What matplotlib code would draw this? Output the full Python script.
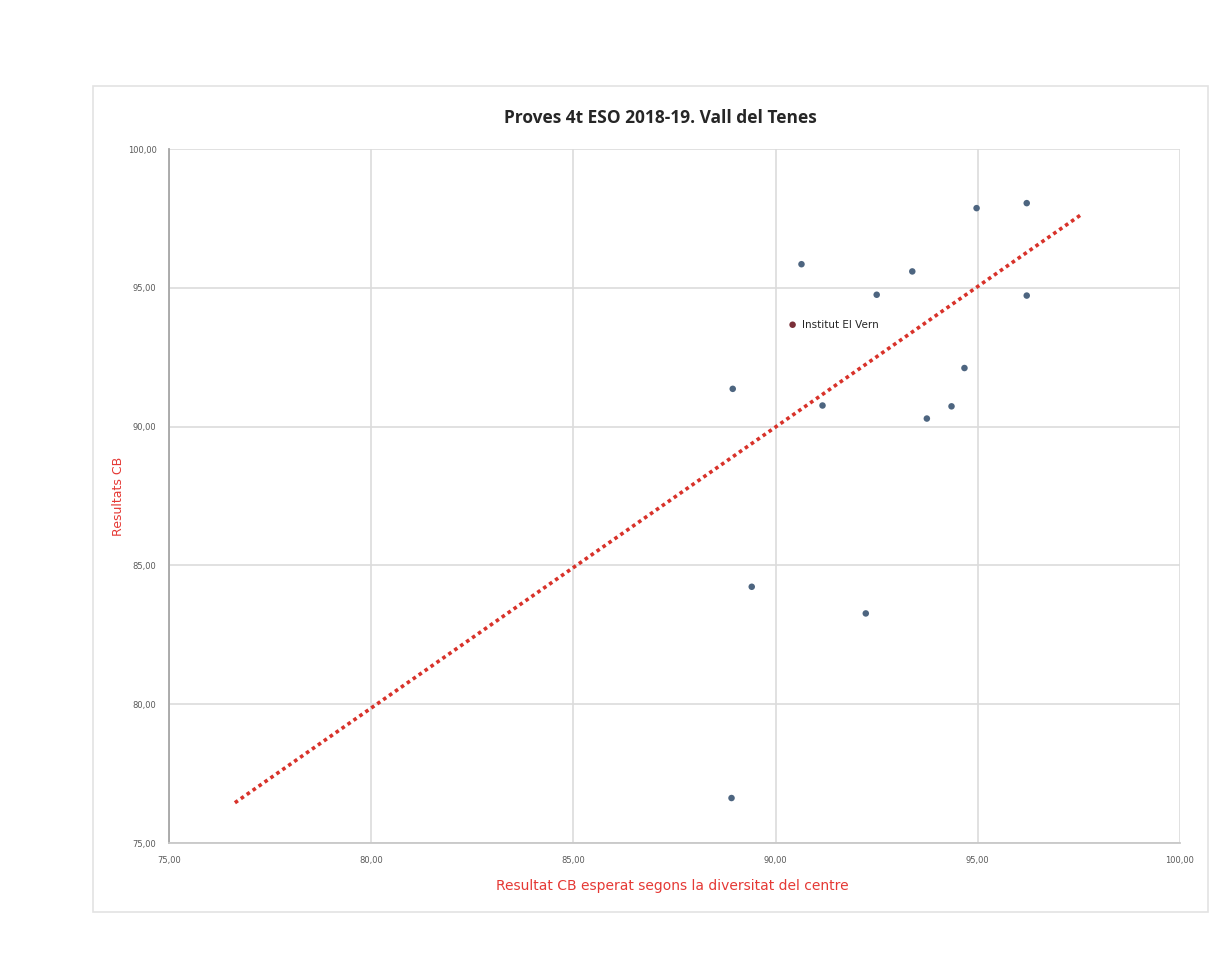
import matplotlib
matplotlib.use("Agg")
import matplotlib.pyplot as plt
from matplotlib.patches import Rectangle
from matplotlib.ticker import FuncFormatter, MultipleLocator

# Data
expected = [96.21, 94.97, 90.64, 93.38, 92.50, 96.21, 94.67, 88.94, 91.16,
            94.35, 93.74, 89.41, 92.23, 88.91]
observed = [98.05, 97.87, 95.85, 95.59, 94.75, 94.72, 92.11, 91.36, 90.76,
            90.73, 90.29, 84.23, 83.27, 76.62]
highlight_x = [90.42]
highlight_y = [93.67]
highlight_label = "Institut El Vern"
trend_x = [76.63, 97.55]
trend_y = [76.45, 97.63]

title = "Proves 4t ESO 2018-19. Vall del Tenes"
xlabel = "Resultat CB esperat segons la diversitat del centre"
ylabel = "Resultats CB"

fig = plt.figure(figsize=(12.3, 9.67), dpi=100)
fig.patch.set_facecolor("white")
fig.patches.append(Rectangle((93/1230, 1-912/967), (1208-93)/1230, (912-86)/967,
                             transform=fig.transFigure, fill=False,
                             edgecolor="#e3e3e3", linewidth=1.2))

ax = fig.add_axes([169/1230, 1-843/967, (1180-169)/1230, (843-149)/967])
ax.set_xlim(75, 100)
ax.set_ylim(75, 100)
ax.xaxis.set_major_locator(MultipleLocator(5))
ax.yaxis.set_major_locator(MultipleLocator(5))
fmt = FuncFormatter(lambda v, p: f"{v:.2f}".replace(".", ","))
ax.xaxis.set_major_formatter(fmt)
ax.yaxis.set_major_formatter(fmt)
ax.grid(True, color="#dcdcdc", linewidth=1.2)
ax.set_axisbelow(True)
for s in ["top", "right"]:
    ax.spines[s].set_visible(False)
ax.spines["left"].set_color("#a6a6a6")
ax.spines["bottom"].set_color("#c8c8c8")
ax.spines["left"].set_linewidth(1.3)
ax.spines["bottom"].set_linewidth(1.3)
ax.tick_params(length=0, labelsize=6, labelcolor="#595959", pad=9)

ax.plot(trend_x, trend_y, linestyle=(0, (1, 1)), color="#d8322a", linewidth=2.6,
        zorder=2)
ax.scatter(expected, observed, s=22, color="#4d6580", zorder=3, edgecolors="none")
ax.scatter(highlight_x, highlight_y, s=22, color="#7a2f38", zorder=3, edgecolors="none")
ax.annotate(highlight_label, (highlight_x[0], highlight_y[0]), xytext=(7, 0),
            textcoords="offset points", va="center", ha="left", fontsize=7.5,
            color="#262626")

fig.text(660/1230, 1-118/967, title, ha="center", va="center", fontsize=12.5,
         fontweight="bold", color="#262626", family="Open Sans")
fig.text(672/1230, 1-886/967, xlabel, ha="center", va="center", fontsize=10,
         color="#e53935")
fig.text(118/1230, 1-496/967, ylabel, ha="center", va="center", fontsize=9,
         color="#e53935", rotation=90)

fig.savefig("out.png", dpi=100, facecolor="white")
